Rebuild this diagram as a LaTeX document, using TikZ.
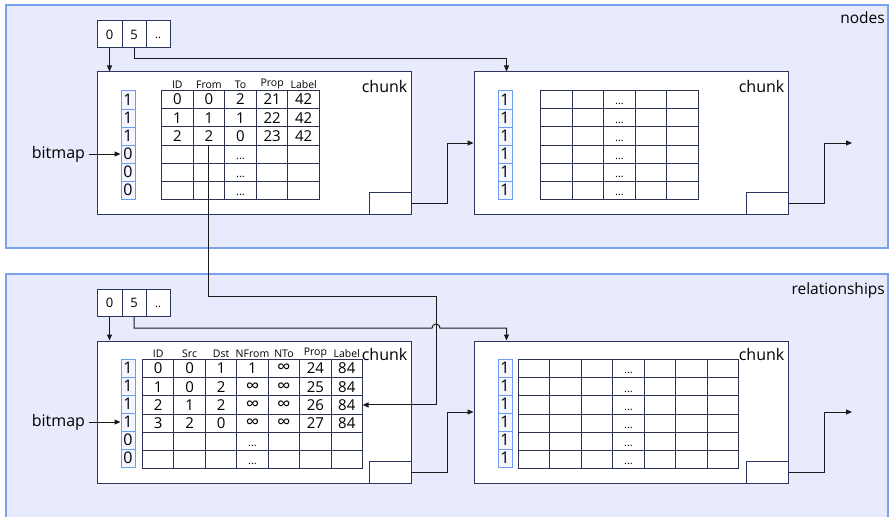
\documentclass[tikz,border=0pt]{standalone}
\usepackage{fontspec}
\setmainfont{Open Sans}
\usetikzlibrary{arrows.meta,matrix,positioning}

\definecolor{panelfill}{HTML}{E8EBFC}
\definecolor{panelline}{HTML}{7BA0F2}
\definecolor{chunkline}{HTML}{2C3560}
\definecolor{tabline}{HTML}{2B3254}
\definecolor{bitline}{HTML}{6D9BF4}
\definecolor{bitfill}{HTML}{F4F7FF}
\definecolor{wirecol}{HTML}{1A1A1A}

\newcommand{\pxfont}[1]{\fontsize{#1pt}{#1pt}\selectfont}
\newcommand{\lowdots}[1]{{\pxfont{11}#1}}
\newcommand{\inft}{{\pxfont{19}∞}}

\begin{document}
\begin{tikzpicture}[x=1pt,y=-1pt,
    panel/.style={draw=panelline, fill=panelfill, line width=1.5pt},
    panellabel/.style={anchor=north east, inner sep=0pt, font=\pxfont{15.5}},
    chunkbox/.style={draw=chunkline, fill=white, line width=1pt, minimum width=314pt, minimum height=142pt, inner sep=0pt},
    tailbox/.style={draw=chunkline, fill=white, line width=1pt, minimum width=42pt, minimum height=22pt, anchor=south east, inner sep=0pt},
    chunklabel/.style={anchor=north east, inner sep=1pt, font=\pxfont{16}},
    idxcell/.style={draw=chunkline, fill=white, line width=1pt, minimum height=27pt, inner sep=0pt, font=\pxfont{13}},
    bitcell/.style={draw=bitline, fill=bitfill, line width=1pt, minimum width=14pt, minimum height=18pt, inner sep=0pt, font=\pxfont{16}},
    cell/.style={draw=tabline, line width=1pt, anchor=center, minimum height=18.17pt, text height=10.5pt, text depth=0pt, inner sep=0pt, font=\pxfont{15}},
    tab/.style={matrix of nodes, nodes in empty cells, anchor=north west, inner sep=0pt, outer sep=0pt, column sep=-1pt, row sep=-1pt},
    hdr/.style={anchor=south, inner sep=1.5pt, font=\pxfont{10.5}},
    lbl/.style={font=\pxfont{16}},
    wire/.style={draw=wirecol, line width=1pt},
    arr/.style={wire, -{Triangle[length=6pt,width=5pt]}},
]
\useasboundingbox (0,0) rectangle (890,516);

% panels
\draw[panel] (6,5) rectangle (888,248);
\draw[panel] (6,274) rectangle (888,520);
\node[panellabel] (lnodes) at (885,12) {nodes};
\node[panellabel] (lrels) at (885,283) {relationships};

% nodes: index
\node[idxcell, minimum width=25pt] (ni0) at (109.5,34.5) {0};
\node[idxcell, minimum width=24pt] (ni1) at (134,34.5) {5};
\node[idxcell, minimum width=24pt, text height=9pt] (ni2) at (158,34.5) {\lowdots{..}};

% nodes: chunks
\node[chunkbox] (nc1) at (254,143) {};
\node[chunkbox] (nc2) at (631,143) {};
\node[tailbox] (nc1t) at (nc1.south east) {};
\node[tailbox] (nc2t) at (nc2.south east) {};
\node[chunklabel] (nc1l) at ([xshift=-3pt,yshift=-8pt]nc1.north east) {chunk};
\node[chunklabel] (nc2l) at ([xshift=-3pt,yshift=-8pt]nc2.north east) {chunk};

\matrix[tab, nodes={cell, minimum width=31.6pt}] (nt1) at (161,90) {
  0 & 0 & 2 & 21 & 42 \\
  1 & 1 & 1 & 22 & 42 \\
  2 & 2 & 0 & 23 & 42 \\
    &   & \lowdots{...} & & \\
    &   & \lowdots{...} & & \\
    &   & \lowdots{...} & & \\
};
\foreach \h [count=\c] in {ID,From,To,Prop,Label}
  \node[hdr] (nh\c) at (nt1-1-\c.north) {\h};

\matrix[tab, nodes={cell, minimum width=31.6pt}] (nt2) at (540,90) {
  & & \lowdots{...} & & \\
  & & \lowdots{...} & & \\
  & & \lowdots{...} & & \\
  & & \lowdots{...} & & \\
  & & \lowdots{...} & & \\
  & & \lowdots{...} & & \\
};

\foreach \v [count=\i] in {1,1,1,0,0,0}
  \node[bitcell] (nb1-\i) at (128,82+18*\i) {\v};
\foreach \v [count=\i] in {1,1,1,1,1,1}
  \node[bitcell] (nb2-\i) at (505,82+18*\i) {\v};

\node[lbl, left=32pt of nb1-4] (nbm) {bitmap};
\draw[arr] (nbm) -- (nb1-4);

\draw[arr] (ni0.south) -- (ni0.south |- nc1.north);
\draw[arr] (ni1.south) -- ++(0,10) -| ([xshift=33pt]nc2.north west);
\draw[arr] (nc1t.east) -- ++(36,0) |- (nc2.west);
\coordinate (nnext) at (852,143);
\draw[arr] (nc2t.east) -- ++(36,0) |- (nnext);

% relationships: index
\node[idxcell, minimum width=25pt] (ri0) at (109.5,303) {0};
\node[idxcell, minimum width=24pt] (ri1) at (134,303) {5};
\node[idxcell, minimum width=24pt, text height=9pt] (ri2) at (158,303) {\lowdots{..}};

% relationships: chunks
\node[chunkbox] (rc1) at (254,412) {};
\node[chunkbox] (rc2) at (631,412) {};
\node[tailbox] (rc1t) at (rc1.south east) {};
\node[tailbox] (rc2t) at (rc2.south east) {};
\node[chunklabel] (rc1l) at ([xshift=-3pt,yshift=-7pt]rc1.north east) {chunk};
\node[chunklabel] (rc2l) at ([xshift=-3pt,yshift=-7pt]rc2.north east) {chunk};

\matrix[tab, nodes={cell, minimum width=31.43pt}] (rt1) at (142,359) {
  0 & 0 & 1 & 1 & \inft & 24 & 84 \\
  1 & 0 & 2 & \inft & \inft & 25 & 84 \\
  2 & 1 & 2 & \inft & \inft & 26 & 84 \\
  3 & 2 & 0 & \inft & \inft & 27 & 84 \\
    &   &   & \lowdots{...} & & & \\
    &   &   & \lowdots{...} & & & \\
};
\foreach \h [count=\c] in {ID,Src,Dst,NFrom,NTo,Prop,Label}
  \node[hdr] (rh\c) at (rt1-1-\c.north) {\h};

\matrix[tab, nodes={cell, minimum width=31.43pt}] (rt2) at (518,359) {
  & & & \lowdots{...} & & & \\
  & & & \lowdots{...} & & & \\
  & & & \lowdots{...} & & & \\
  & & & \lowdots{...} & & & \\
  & & & \lowdots{...} & & & \\
  & & & \lowdots{...} & & & \\
};

\foreach \v [count=\i] in {1,1,1,1,0,0}
  \node[bitcell] (rb1-\i) at (128,350+18*\i) {\v};
\foreach \v [count=\i] in {1,1,1,1,1,1}
  \node[bitcell] (rb2-\i) at (505,350+18*\i) {\v};

\node[lbl, left=32pt of rb1-4] (rbm) {bitmap};
\draw[arr] (rbm) -- (rb1-4);

\draw[arr] (ri0.south) -- (ri0.south |- rc1.north);
\draw[arr] (rc1t.east) -- ++(36,0) |- (rc2.west);
\coordinate (rnext) at (852,412);
\draw[arr] (rc2t.east) -- ++(36,0) |- (rnext);

% From -> relationship
\coordinate (jog) at (436,296);
\draw[arr] (nt1-3-2.south) |- (jog) |- (rt1-3-7.east);
\coordinate (hop) at (436,328);
\draw[arr] (ri1.south) |- ([xshift=-4pt]hop) arc[start angle=180, end angle=0, radius=4pt] -| ([xshift=33pt]rc2.north west);
\end{tikzpicture}
\end{document}
